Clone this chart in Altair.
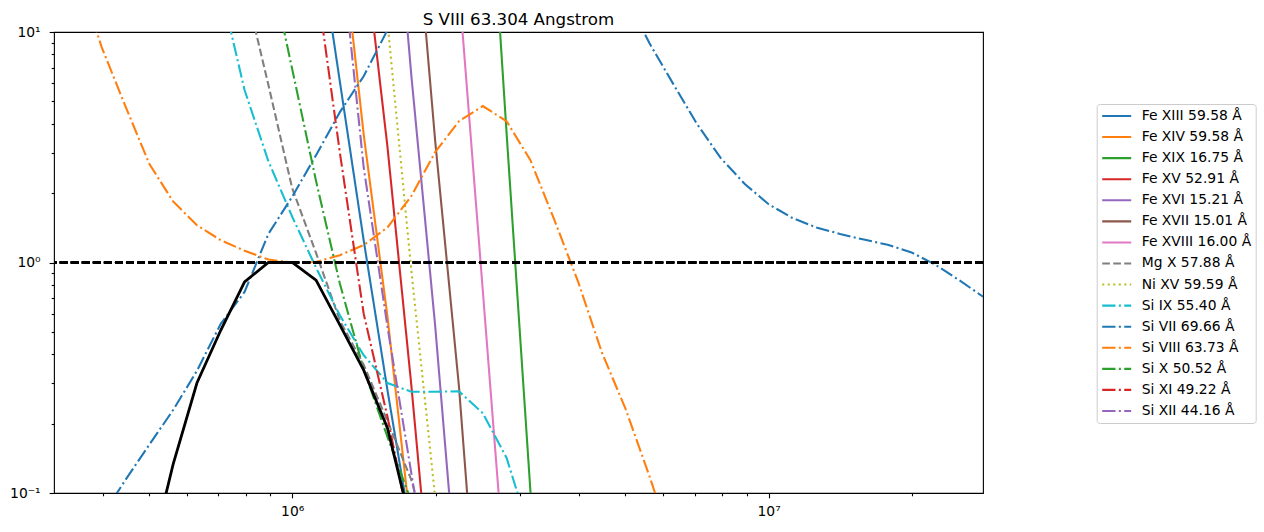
import altair as alt
import pandas as pd

# ---------------- data (log10 T grid points, ratio values) ----------------
TITLE = "S VIII 63.304 Angstrom"

SERIES = ["Fe XIII 59.58 Å", "Fe XIV 59.58 Å", "Fe XIX 16.75 Å", "Fe XV 52.91 Å",
          "Fe XVI 15.21 Å", "Fe XVII 15.01 Å", "Fe XVIII 16.00 Å", "Mg X 57.88 Å",
          "Ni XV 59.59 Å", "Si IX 55.40 Å", "Si VII 69.66 Å", "Si VIII 63.73 Å",
          "Si X 50.52 Å", "Si XI 49.22 Å", "Si XII 44.16 Å"]

COLORS = ["#1f77b4", "#ff7f0e", "#2ca02c", "#d62728", "#9467bd", "#8c564b", "#e377c2",
          "#7f7f7f", "#bcbd22", "#17becf", "#1f77b4", "#ff7f0e", "#2ca02c", "#d62728", "#9467bd"]

SOLID = [1, 0]
DASHED = [7.7, 3.33]
DOTTED = [2.08, 3.44]
DASHDOT = [13.3, 3.33, 2.08, 3.33]
DASHES = [SOLID] * 7 + [DASHED, DOTTED] + [DASHDOT] * 6

FE_XIII_T = [6.05, 6.1, 6.15, 6.2, 6.25]
FE_XIII = [30, 6.1, 1.25, 0.279, 0.067]

FE_XIV_T = [6.1, 6.15, 6.2, 6.25]
FE_XIV = [31, 3.6, 0.581, 0.068]

FE_XIX_T = [6.4, 6.45, 6.5, 6.55]
FE_XIX = [147, 3.64, 0.102, 0.0036]

FE_XV_T = [6.15, 6.2, 6.25, 6.3]
FE_XV = [25, 3.17, 0.294, 0.022]

FE_XVI_T = [6.2, 6.25, 6.3, 6.35]
FE_XVI = [105, 6.5, 0.534, 0.031]

FE_XVII_T = [6.25, 6.3, 6.35, 6.4]
FE_XVII = [55, 3.39, 0.29, 0.013]

FE_XVIII_T = [6.35, 6.4, 6.45]
FE_XVIII = [15.8, 0.758, 0.036]

MG_X_T = [5.9, 5.95, 6.0, 6.05, 6.1, 6.15, 6.2, 6.25, 6.3]
MG_X = [16.1, 5.9, 2.1, 1.1, 0.56, 0.36, 0.205, 0.114, 0.05]

NI_XV_T = [6.15, 6.2, 6.25, 6.3, 6.35]
NI_XV = [200, 11.0, 0.926, 0.096, 0.01]

SI_IX_T = [5.8, 5.85, 5.9, 5.95, 6.0, 6.05, 6.1, 6.15, 6.2, 6.25, 6.3, 6.35, 6.4, 6.45, 6.5]
SI_IX = [40, 15.5, 5.6, 2.75, 1.58, 0.95, 0.59, 0.396, 0.30, 0.275, 0.275, 0.276, 0.222, 0.142, 0.066]

SI_VII_T = [5.6, 5.65, 5.7, 5.75, 5.8, 5.85, 5.9, 5.95, 6.0, 6.05, 6.1, 6.15, 6.2, 6.25,
            6.3, 6.35, 6.4, 6.45, 6.5, 6.55, 6.6, 6.65, 6.7, 6.75, 6.8, 6.85, 6.9, 6.95,
            7.0, 7.05, 7.1, 7.15, 7.2, 7.25, 7.3, 7.35, 7.4, 7.45]
SI_VII = [0.079, 0.114, 0.162, 0.229, 0.339, 0.542, 0.745, 1.33, 1.93, 2.92, 4.49, 6.43, 10.2, 15,
          21, 27, 30, 31, 29, 26, 23, 19, 14.3, 8.93, 5.94, 3.98, 2.83, 2.19,
          1.79, 1.56, 1.42, 1.33, 1.257, 1.193, 1.106, 0.978, 0.838, 0.711]

SI_VIII_T = [5.5, 5.55, 5.6, 5.65, 5.7, 5.75, 5.8, 5.85, 5.9, 5.95, 6.0, 6.05, 6.1, 6.15,
             6.2, 6.25, 6.3, 6.35, 6.4, 6.45, 6.5, 6.55, 6.6, 6.65, 6.7, 6.75, 6.8]
SI_VIII = [40, 18, 8.6, 4.76, 2.68, 1.84, 1.45, 1.25, 1.125, 1.03, 1.0, 1.005, 1.076, 1.19,
           1.42, 1.94, 3.01, 4.1, 4.77, 4.1, 2.78, 1.535, 0.827, 0.407, 0.231, 0.118, 0.058]

SI_X_T = [5.95, 6.0, 6.05, 6.1, 6.15, 6.2, 6.25, 6.3]
SI_X = [21, 6.9, 2.26, 0.81, 0.344, 0.175, 0.092, 0.04]

SI_XI_T = [6.05, 6.1, 6.15, 6.2, 6.25]
SI_XI = [17, 3.0, 0.6, 0.214, 0.065]

SI_XII_T = [6.1, 6.15, 6.2, 6.25, 6.3]
SI_XII = [25.7, 2.59, 0.526, 0.122, 0.028]

S_VIII_T = [5.7, 5.75, 5.8, 5.85, 5.9, 5.95, 6.0, 6.05, 6.1, 6.15, 6.2, 6.25]
S_VIII = [0.05, 0.133, 0.30, 0.508, 0.824, 1.0, 1.0, 0.838, 0.536, 0.341, 0.191, 0.072]

X_TICKS = [4e5, 5e5, 6e5, 7e5, 8e5, 9e5, 1e6, 2e6, 3e6, 4e6, 5e6, 6e6, 7e6, 8e6, 9e6, 1e7, 2e7]
Y_TICKS = [0.1, 0.2, 0.3, 0.4, 0.5, 0.6, 0.7, 0.8, 0.9, 1, 2, 3, 4, 5, 6, 7, 8, 9, 10]
X_DOMAIN = [10 ** 5.5, 10 ** 7.45]
Y_DOMAIN = [0.1, 10]

# ---------------- build table ----------------
pairs = [(FE_XIII_T, FE_XIII), (FE_XIV_T, FE_XIV), (FE_XIX_T, FE_XIX), (FE_XV_T, FE_XV),
         (FE_XVI_T, FE_XVI), (FE_XVII_T, FE_XVII), (FE_XVIII_T, FE_XVIII), (MG_X_T, MG_X),
         (NI_XV_T, NI_XV), (SI_IX_T, SI_IX), (SI_VII_T, SI_VII), (SI_VIII_T, SI_VIII),
         (SI_X_T, SI_X), (SI_XI_T, SI_XI), (SI_XII_T, SI_XII)]
rows = []
for k, (name, (ts, vs)) in enumerate(zip(SERIES, pairs)):
    for i, (t, v) in enumerate(zip(ts, vs)):
        rows.append({"series": name, "order": k, "i": i, "T": 10 ** t, "ratio": v})
df = pd.DataFrame(rows)
black = pd.DataFrame({"T": [10 ** t for t in S_VIII_T], "ratio": S_VIII,
                      "i": list(range(len(S_VIII)))})
title_df = pd.DataFrame({"t": [TITLE]})

FONT = "DejaVu Sans"
FS = 13.89
W, H = 929, 461

x_axis = alt.Axis(values=X_TICKS, title=None, grid=False, domain=False,
                  labelExpr="datum.value == 1000000 ? '10⁶' : datum.value == 10000000 ? '10⁷' : ''",
                  tickSize={"condition": {"test": "datum.value == 1000000 || datum.value == 10000000",
                                          "value": 4.86}, "value": 2.78},
                  labelOverlap=False, labelFlush=False, labelPadding=7)
y_axis = alt.Axis(values=Y_TICKS, title=None, grid=False, domain=False,
                  labelExpr="datum.value == 0.1 ? '10⁻¹' : datum.value == 1 ? '10⁰' : datum.value == 10 ? '10¹' : ''",
                  tickSize={"condition": {"test": "datum.value == 0.1 || datum.value == 1 || datum.value == 10",
                                          "value": 4.86}, "value": 2.78},
                  labelOverlap=False, labelFlush=False, labelPadding=9)

xs = alt.Scale(type="log", domain=X_DOMAIN, nice=False, zero=False)
ys = alt.Scale(type="log", domain=Y_DOMAIN, nice=False, zero=False)


def make_legend():
    return alt.Legend(title=None, orient="none", legendX=1042.7, legendY=72,
                      symbolType="stroke", symbolSize=841, symbolStrokeWidth=2.08,
                      labelFont=FONT, labelFontSize=FS, labelColor="black",
                      padding=4, clipHeight=16, rowPadding=5.07,
                      labelOffset=9, symbolOffset=0,
                      strokeColor="#cccccc", cornerRadius=3, fillColor="white",
                      labelLimit=300)


lines = alt.Chart(df).mark_line(clip=True, strokeWidth=2.08).encode(
    x=alt.X("T:Q", scale=xs, axis=x_axis),
    y=alt.Y("ratio:Q", scale=ys, axis=y_axis),
    color=alt.Color("series:N", scale=alt.Scale(domain=SERIES, range=COLORS), legend=make_legend()),
    strokeDash=alt.StrokeDash("series:N", scale=alt.Scale(domain=SERIES, range=DASHES),
                              legend=make_legend()),
    detail="series:N",
    order="i:Q",
)

black_line = alt.Chart(black).mark_line(clip=True, color="black", strokeWidth=2.78).encode(
    x=alt.X("T:Q", scale=xs), y=alt.Y("ratio:Q", scale=ys), order="i:Q")

hline = alt.Chart(black).mark_rule(color="black", strokeWidth=2.08, strokeDash=[7.7, 3.33]).encode(
    y=alt.datum(1))

title_mark = alt.Chart(title_df).mark_text(
    font=FONT, fontSize=16.67, color="black", align="center", baseline="alphabetic"
).encode(text="t:N", x=alt.value(W / 2), y=alt.value(-7.5))

chart = alt.layer(lines, black_line, hline, title_mark).properties(
    width=W, height=H,
    background="white",
    padding={"left": 54, "top": 32, "right": 281, "bottom": 39},
    autosize=alt.AutoSizeParams(type="none"),
).configure_view(stroke="black", strokeWidth=1.11).configure_axis(
    labelFont=FONT, labelFontSize=FS, labelColor="black", tickColor="black", tickWidth=1.11
)

chart.save("out.html", embed_options={"renderer": "svg", "actions": False})
